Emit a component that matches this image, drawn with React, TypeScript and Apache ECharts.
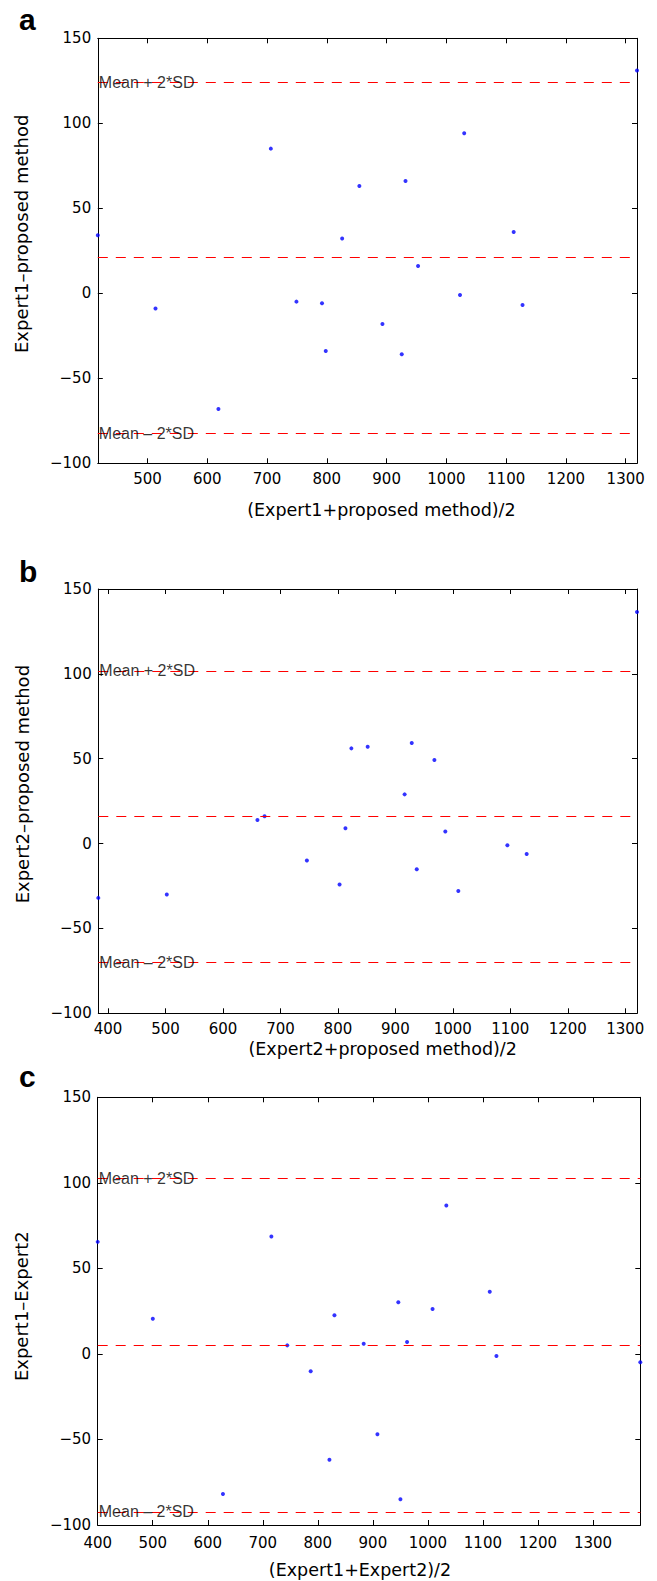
import React, { useEffect, useRef } from 'react';
import * as echarts from 'echarts';

// ---------- data ----------
const panelLetters = ['a', 'b', 'c'];
const xTitles = ['(Expert1+proposed method)/2', '(Expert2+proposed method)/2', '(Expert1+Expert2)/2'];
const yTitles = ['Expert1–proposed method', 'Expert2–proposed method', 'Expert1–Expert2'];
const limitLabels = ['Mean + 2*SD', 'Mean – 2*SD'];

const yTicks = [-100, -50, 0, 50, 100, 150];
const xTicksA = [500, 600, 700, 800, 900, 1000, 1100, 1200, 1300];
const xTicksB = [400, 500, 600, 700, 800, 900, 1000, 1100, 1200, 1300];
const xTicksC = [400, 500, 600, 700, 800, 900, 1000, 1100, 1200, 1300];

const xRangeA = [416.8, 1318.9];
const xRangeB = [383, 1320.5];
const xRangeC = [400, 1386];

// [mean + 2SD, mean, mean - 2SD]
const limitsA = [124.1, 21, -82.2];
const limitsB = [101.8, 15.9, -70];
const limitsC = [102.4, 5, -92.4];

const pointsA = [
  [416.8, 34.1], [513.3, -9], [618.6, -68], [706.3, 85.1], [749.1, -4.9],
  [791.9, -5.9], [798.2, -33.9], [825.6, 32.2], [854.4, 63.1], [893, -18],
  [925.3, -35.9], [931.6, 66.1], [952.6, 16.1], [1022.8, -1], [1029.8, 94.1],
  [1112.6, 36.1], [1127.4, -6.9], [1318.9, 131],
];
const pointsB = [
  [383, -32], [502.2, -30], [659.9, 13.9], [672.3, 16.1], [746, -10],
  [802.9, -24.1], [813.1, 9], [823.4, 56.1], [851.8, 57.1], [916.1, 29],
  [928.5, 59.3], [937.2, -15.1], [967.9, 49.2], [986.9, 7.1], [1009.5, -28],
  [1094.9, -1], [1128.5, -6.1], [1320.5, 136.4],
];
const pointsC = [
  [400, 65.5], [500.2, 20.6], [627.6, -81.9], [715.6, 68.6], [744.5, 5],
  [787, -10.1], [821.1, -61.9], [830.2, 22.6], [883.3, 6], [908.3, -47],
  [946.3, 30.2], [950.1, -85], [962.2, 7], [1008.5, 26.3], [1033.5, 86.7],
  [1112.4, 36.3], [1124.6, -1.2], [1386, -4.9],
];

// ---------- layout ----------
const W = 657;
const H = 1581;
const grids = [
  { left: 97.8, top: 38.3, width: 539.2, height: 425 },
  { left: 98.3, top: 589, width: 538.7, height: 424.3 },
  { left: 97.7, top: 1097.3, width: 542.6, height: 427.7 },
];
const letterY = [19.5, 571.5, 1076.5];
const xLabelMargin = [16, 15.7, 18.3];
const xNameGap = [46.7, 35.4, 45];
const xNamePad = [[0, 0, 0, 28], [0, 0, 0, 30], [0, 18, 0, 0]];
const yNamePad = [[0, 0, 0, 34], [0, 0, 0, 34], [0, 0, 0, 10]];

const FONT = 'DejaVu Sans';

export default function App() {
  const ref = useRef<HTMLDivElement>(null);

  useEffect(() => {
    if (!ref.current) return;
    const chart = echarts.init(ref.current, undefined, { renderer: 'svg' });

    const panels = [
      { pts: pointsA, lim: limitsA, xr: xRangeA, xt: xTicksA },
      { pts: pointsB, lim: limitsB, xr: xRangeB, xt: xTicksB },
      { pts: pointsC, lim: limitsC, xr: xRangeC, xt: xTicksC },
    ];

    const xAxis: any[] = [];
    const yAxis: any[] = [];
    const series: any[] = [];
    const fmt = (v: number) => String(v).replace('-', '\u2212');

    panels.forEach((p, i) => {
      const line = { show: true, onZero: false, lineStyle: { color: '#000', width: 1 } };
      const tick = (vals: number[]) => ({
        show: true, inside: true, length: 5, customValues: vals,
        lineStyle: { color: '#000', width: 1 },
      });
      xAxis.push({
        type: 'value', gridIndex: i, position: 'bottom', min: p.xr[0], max: p.xr[1],
        axisLine: line, axisTick: tick(p.xt), splitLine: { show: false },
        axisLabel: {
          customValues: p.xt, margin: xLabelMargin[i], verticalAlign: 'middle',
          fontFamily: FONT, fontSize: 15, color: '#000', formatter: fmt,
        },
        name: xTitles[i], nameLocation: 'middle', nameGap: xNameGap[i],
        nameTextStyle: {
          fontFamily: FONT, fontSize: 17.5, color: '#000', verticalAlign: 'middle',
          padding: xNamePad[i],
        },
      });
      xAxis.push({
        type: 'value', gridIndex: i, position: 'top', min: p.xr[0], max: p.xr[1],
        axisLine: line, axisTick: tick(p.xt), splitLine: { show: false },
        axisLabel: { show: false },
      });
      yAxis.push({
        type: 'value', gridIndex: i, position: 'left', min: -100, max: 150, interval: 50,
        axisLine: line, axisTick: tick(yTicks), splitLine: { show: false },
        axisLabel: {
          margin: 6.6, fontFamily: FONT, fontSize: 15, color: '#000', formatter: fmt,
        },
        name: yTitles[i], nameLocation: 'middle', nameGap: 76,
        nameTextStyle: {
          fontFamily: FONT, fontSize: 18, color: '#000', verticalAlign: 'middle',
          padding: yNamePad[i],
        },
      });
      yAxis.push({
        type: 'value', gridIndex: i, position: 'right', min: -100, max: 150, interval: 50,
        axisLine: line, axisTick: tick(yTicks), splitLine: { show: false },
        axisLabel: { show: false },
      });

      series.push({
        type: 'scatter', xAxisIndex: 2 * i, yAxisIndex: 2 * i, data: p.pts,
        symbol: 'circle', symbolSize: 4, clip: false, silent: true,
        itemStyle: { color: '#0000ff' }, z: 3,
        markLine: {
          silent: true, symbol: ['none', 'none'], label: { show: false },
          lineStyle: { color: '#ff0000', type: [10, 8], width: 1 },
          data: p.lim.map((v) => ({ yAxis: v })),
        },
      });
      series.push({
        type: 'scatter', xAxisIndex: 2 * i, yAxisIndex: 2 * i,
        data: [
          { value: [p.xr[0], p.lim[0]], name: limitLabels[0] },
          { value: [p.xr[0], p.lim[2]], name: limitLabels[1] },
        ],
        symbolSize: 0.1, clip: false, silent: true, z: 5,
        itemStyle: { color: 'rgba(0,0,0,0)' },
        label: {
          show: true, position: 'right', distance: 1, formatter: '{b}',
          color: '#000', fontFamily: 'Liberation Sans', fontSize: 16,
        },
      });
    });

    chart.setOption({
      animation: false,
      backgroundColor: '#fff',
      grid: grids.map((g) => ({ ...g, containLabel: false })),
      xAxis,
      yAxis,
      series,
      graphic: panelLetters.map((t, i) => ({
        type: 'text', x: 19, y: letterY[i], silent: true,
        style: {
          text: t, fill: '#000', font: 'bold 30px "Liberation Sans"',
          textVerticalAlign: 'middle', textAlign: 'left',
        },
      })),
    });

    return () => chart.dispose();
  }, []);

  return (
    <div
      ref={ref}
      style={{ position: 'absolute', left: 0, top: 0, width: W, height: H, background: '#fff' }}
    />
  );
}
